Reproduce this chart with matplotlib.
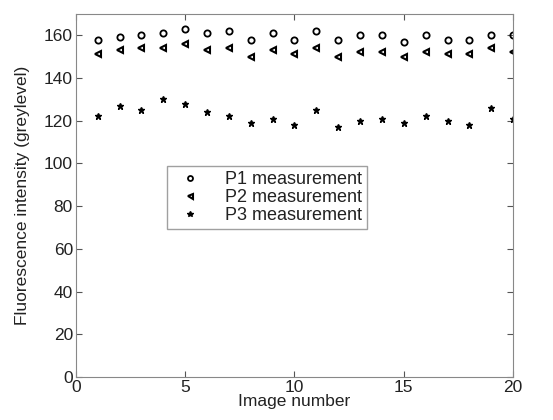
import numpy as np
from matplotlib import pyplot as plt

plt.rcParams['font.family'] = ['Liberation Sans', 'DejaVu Sans']

# readings per image
image_no = np.arange(1, 21)
p1 = [158, 159, 160, 161, 163, 161, 162, 158, 161, 158,
      162, 158, 160, 160, 157, 160, 158, 158, 160, 160]
p2 = [151, 153, 154, 154, 156, 153, 154, 150, 153, 151,
      154, 150, 152, 152, 150, 152, 151, 151, 154, 152]
p3 = [122, 127, 125, 130, 128, 124, 122, 119, 121, 118,
      125, 117, 120, 121, 119, 122, 120, 118, 126, 121]

fig = plt.figure(figsize=(5.53, 4.2), dpi=100)
ax = fig.add_axes([0.137, 0.102, 0.791, 0.865])

ax.plot(image_no, p1, 'o', mfc='none', mec='k', mew=1.3, ms=4.5, label='P1 measurement')
ax.plot(image_no, p2, '<', mfc='none', mec='k', mew=1.5, ms=4.5, label='P2 measurement')
ax.plot(image_no, p3, '*', color='k', ms=5, label='P3 measurement')

ax.set_xlim(0, 20)
ax.set_ylim(0, 170)
ax.set_xticks([0, 5, 10, 15, 20])
ax.set_yticks(range(0, 161, 20))
ax.tick_params(direction='in', top=True, right=True, labelsize=12.5, length=4,
               color='#555555', pad=2, labelcolor='#222222')
for s in ax.spines.values():
    s.set_color('#888888')

ax.set_xlabel('Image number', fontsize=12.5, labelpad=-1, color='#222222')
ax.set_ylabel('Fluorescence intensity (greylevel)', fontsize=12.5, labelpad=10,
              color='#222222')

leg = ax.legend(loc='upper left', bbox_to_anchor=(0.208, 0.582), fontsize=13,
                frameon=True, fancybox=False, edgecolor='#888888',
                markerscale=0.8, handlelength=2.0, handletextpad=0.9,
                borderpad=0.3, labelspacing=0.05, borderaxespad=0)
leg.get_frame().set_linewidth(1.0)
for t in leg.get_texts():
    t.set_color('#222222')

fig.savefig('out.png', dpi=100)
